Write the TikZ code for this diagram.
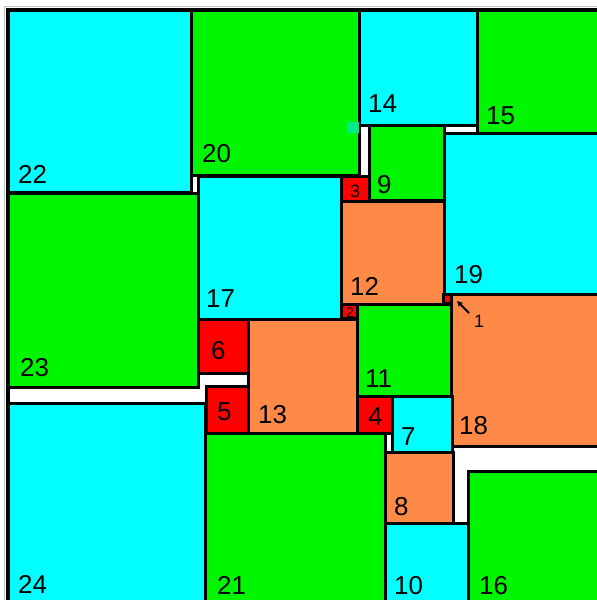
\documentclass[tikz,border=0pt]{standalone}
\usepackage{fontspec}
\setmainfont{Liberation Sans}
\usetikzlibrary{fit,arrows.meta}
\definecolor{cy}{RGB}{0,255,255}
\definecolor{gr}{RGB}{0,245,0}
\definecolor{orr}{RGB}{255,138,72}
\definecolor{rd}{RGB}{255,0,0}
\definecolor{tealpatch}{RGB}{0,235,140}
\newcommand\sqr[6]{\node[sqbox, fill=#6, fit={(#2,#3) (#4,#5)}] (s#1) {};}
\newcommand\lbl[4][lab]{\node[#1] (l#2) at (#3,#4) {#2};}
\begin{document}
\begin{tikzpicture}[x=1bp,y=-1bp,
  sqbox/.style={draw=black, line width=3bp, inner sep=0pt, outer sep=0pt},
  lab/.style={anchor=base west, inner sep=0pt, font=\fontsize{26}{26}\selectfont},
  smlab/.style={anchor=base west, inner sep=0pt, font=\fontsize{18}{18}\selectfont},
  tinylab/.style={anchor=base west, inner sep=0pt, font=\fontsize{14}{14}\selectfont},
  pointer/.style={line width=1.8bp, -{Stealth[length=6bp,width=6bp]}}]
\useasboundingbox (0,0) rectangle (597,600);
\clip (0,0) rectangle (597,600);
\fill[white] (0,0) rectangle (597,600);
\draw[black!25, line width=1bp] (4,700) -- (4,7) -- (700,7);
\draw[line width=4bp] (8,700) -- (8,10) -- (700,10);
% squares
\sqr{22}{8}{10.5}{191.5}{192.5}{cy}
\sqr{20}{191.5}{10.5}{359.5}{175.5}{gr}
\sqr{14}{359.5}{10.5}{477.5}{125.5}{cy}
\sqr{15}{477.5}{10.5}{640}{133.5}{gr}
\sqr{9}{369}{126}{444}{200.5}{gr}
\sqr{19}{444}{133.5}{640}{294}{cy}
\sqr{3}{341}{176}{369}{201}{rd}
\sqr{17}{198}{176}{341}{319.5}{cy}
\sqr{23}{8}{193}{198}{387}{gr}
\sqr{12}{341}{201}{444}{304}{orr}
\sqr{2}{341}{304}{357.5}{318.5}{rd}
\sqr{11}{357.5}{304}{451.5}{396.5}{gr}
\sqr{18}{451.5}{294}{640}{446}{orr}
\sqr{1}{443.5}{294}{451.5}{303.5}{rd}
\sqr{6}{198.5}{319.5}{248.5}{373}{rd}
\sqr{13}{248.5}{319.5}{357.5}{433}{orr}
\sqr{5}{206}{386.5}{248.5}{433}{rd}
\sqr{24}{8}{403.5}{205}{640}{cy}
\sqr{21}{205}{433}{385}{640}{gr}
\sqr{4}{357.5}{396.5}{392}{433}{rd}
\sqr{7}{392}{396.5}{452}{452}{cy}
\sqr{8}{385}{452}{453}{523}{orr}
\sqr{10}{385}{523}{468.5}{640}{cy}
\sqr{16}{468.5}{471.5}{640}{640}{gr}
\fill[tealpatch] (347,122) rectangle (359,133);
% labels
\lbl{22}{18}{183}
\lbl{20}{202}{163}
\lbl{14}{368}{113}
\lbl{15}{486}{125}
\lbl{9}{377}{193}
\lbl[smlab]{3}{350}{197}
\lbl{17}{206}{307}
\lbl{23}{20}{376}
\lbl{12}{350}{295}
\lbl{19}{454}{283}
\lbl[tinylab]{2}{346}{317}
\lbl[smlab]{1}{474}{327}
\lbl{11}{365}{387}
\lbl{6}{211}{359}
\lbl{5}{217}{420}
\lbl{13}{258}{423}
\lbl{4}{368}{425}
\lbl{7}{401}{445}
\lbl{18}{459}{434}
\lbl{8}{394}{515}
\lbl{10}{394}{594}
\lbl{16}{479}{594}
\lbl{24}{18}{593}
\lbl{21}{217}{594}
% pointer to square 1
\coordinate (ptail) at (469,313);
\coordinate (phead) at (457,301);
\draw[pointer] (ptail) -- (phead);
\end{tikzpicture}
\end{document}
